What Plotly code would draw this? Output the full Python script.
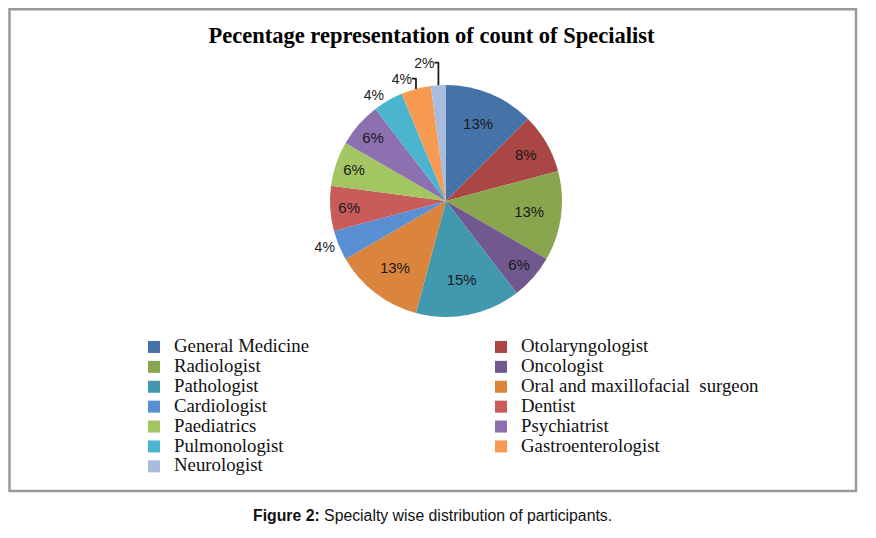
import plotly.graph_objects as go

categories = ["General Medicine", "Otolaryngologist", "Radiologist", "Oncologist",
              "Pathologist", "Oral and maxillofacial  surgeon", "Cardiologist", "Dentist",
              "Paediatrics", "Psychiatrist", "Pulmonologist", "Gastroenterologist", "Neurologist"]
counts = [6, 4, 6, 3, 7, 6, 2, 3, 3, 3, 2, 2, 1]
colors = ["#4572A7", "#AA4643", "#89A54E", "#71588F", "#4198AF", "#DB843D",
          "#5B8FD3", "#C75C5A", "#A3C562", "#8C70B0", "#4BB5CF", "#F79A52", "#A9BCE0"]
text_positions = ["inside", "inside", "inside", "inside", "inside", "inside", "outside",
                  "inside", "inside", "inside", "outside", "outside", "outside"]

# The page body has an 8px margin; the figure is sized to fit the 876x538 window.
OFF = 8
W, H = 876 - 2 * OFF, 538 - 2 * OFF


def px(x):
    return (x - OFF) / W


def py(y):
    return 1 - (y - OFF) / H


legend_labels = ['<span style="font-size:18.8px">' + c.replace("  ", "&nbsp; ") + "</span>"
                 for c in categories]

fig = go.Figure()
fig.add_trace(go.Pie(
    labels=legend_labels,
    values=counts,
    sort=False,
    direction="clockwise",
    rotation=0,
    marker=dict(colors=colors, line=dict(width=0)),
    textinfo="percent",
    texttemplate="%{percent:.0%}",
    textposition=text_positions,
    insidetextorientation="horizontal",
    textfont=dict(family="Liberation Sans", size=15, color="#1a1a1a"),
    outsidetextfont=dict(family="Liberation Sans", size=14, color="#1a1a1a"),
    domain=dict(x=[px(330), px(562)], y=[py(317), py(85)]),
    hoverinfo="label+percent",
))

fig.update_layout(
    width=W, height=H,
    margin=dict(l=0, r=0, t=0, b=0),
    paper_bgcolor="white",
    plot_bgcolor="white",
    showlegend=True,
    legend=dict(
        orientation="h",
        x=px(134), y=py(332),
        xanchor="left", yanchor="top",
        entrywidth=302, entrywidthmode="pixels",
        font=dict(family="Liberation Serif", size=13, color="#111111"),
        traceorder="normal",
        bgcolor="rgba(0,0,0,0)",
    ),
    title=dict(
        text="<b>Pecentage representation of count of Specialist</b>",
        x=px(431.5), xanchor="center",
        y=py(35), yanchor="middle",
        font=dict(family="Liberation Serif", size=22.5, color="#000000"),
    ),
    shapes=[dict(
        type="rect", xref="paper", yref="paper",
        x0=px(9.5), x1=px(856), y0=py(491), y1=1 - 1.2 / H,
        line=dict(color="#999999", width=2.5), fillcolor="rgba(0,0,0,0)",
    )],
    annotations=[dict(
        text="<b>Figure 2:</b> Specialty wise distribution of participants.",
        xref="paper", yref="paper",
        x=px(432.5), y=py(515), xanchor="center", yanchor="middle",
        showarrow=False,
        font=dict(family="Liberation Sans", size=15.8, color="#111111"),
    )],
)

fig.write_html("out.html")
